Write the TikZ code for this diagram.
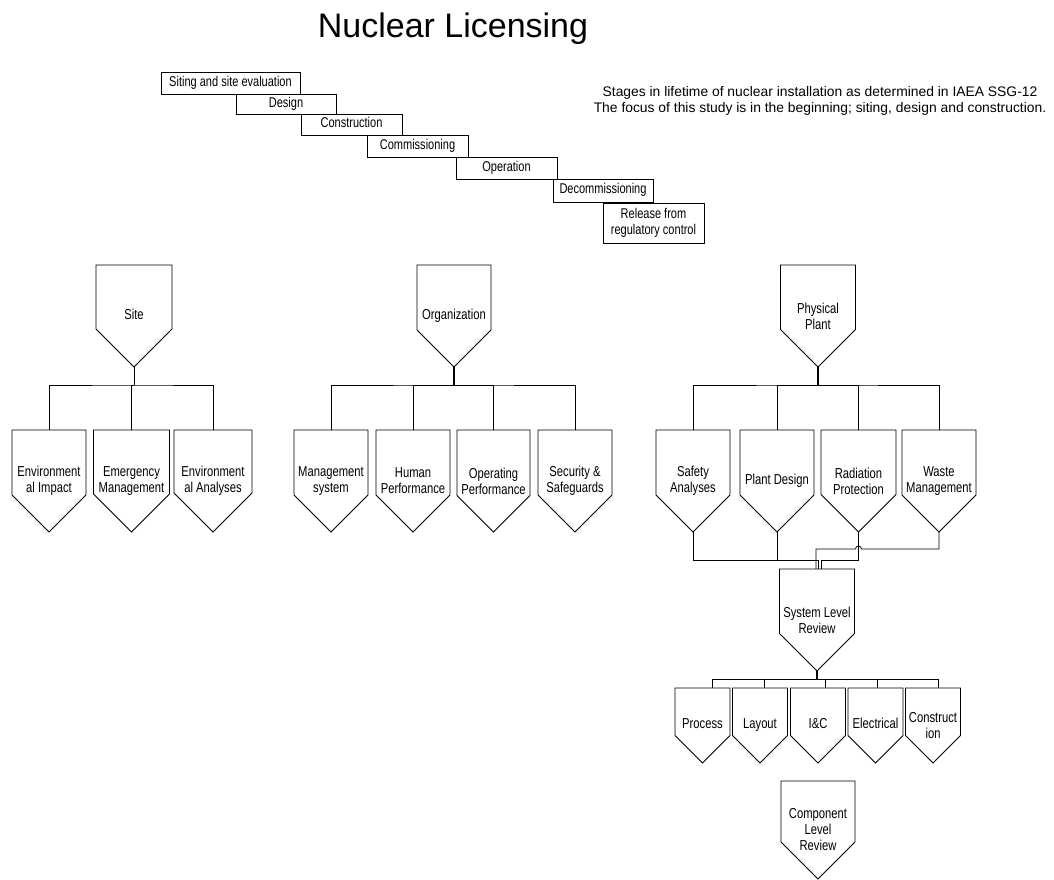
\documentclass[tikz,border=0pt]{standalone}
\usepackage{fontspec}
\setmainfont{Liberation Sans}
\newfontfamily\boxfont{Liberation Sans}[FakeStretch=0.78]

% Pentagon pointing down: name, x, y, width, height, text (sizes in px units)
\newcommand\pentagonnode[6]{%
  \node[pentbox, minimum width=0.75*#4pt, minimum height=0.75*#5pt] (#1) at (#2,#3) {#6};
  \draw[wire] (#1.north west) -- (#1.north east)
    -- ([yshift=0.375*#4pt]#1.south east) -- (#1.south)
    -- ([yshift=0.375*#4pt]#1.south west) -- cycle;
}

\begin{document}
\begin{tikzpicture}[x=0.75pt,y=-0.75pt,
  wire/.style={draw=black, line width=0.6pt},
  trunk/.style={draw=black, line width=1.3pt},
  stagebox/.style={draw=black, line width=0.6pt, rectangle, inner sep=0pt, outer sep=0pt,
    align=center, font=\boxfont\fontsize{10.6}{12}\selectfont},
  pentbox/.style={rectangle, inner sep=0pt, outer sep=0pt, align=center,
    font=\boxfont\fontsize{10.8}{12}\selectfont},
]
\useasboundingbox (0,0) rectangle (1054,880);

% Title and note
\node[anchor=base, inner sep=0pt, font=\fontsize{25.5}{30}\selectfont] (title) at (453,38) {Nuclear Licensing};
\node[align=center, inner sep=0pt, font=\fontsize{10.4}{12}\selectfont] (note) at (820,101)
  {Stages in lifetime of nuclear installation as determined in IAEA SSG-12\\
   The focus of this study is in the beginning; siting, design and construction.};

% Lifetime stages
\node[stagebox, minimum width=0.75*139pt, minimum height=0.75*22pt] (s1) at (230.5,83) {\strut Siting and site evaluation};
\node[stagebox, minimum width=0.75*100pt, minimum height=0.75*20pt] (s2) at (286,104) {\strut Design};
\node[stagebox, minimum width=0.75*101pt, minimum height=0.75*21pt] (s3) at (351.5,124.5) {\strut Construction};
\node[stagebox, minimum width=0.75*101pt, minimum height=0.75*22pt] (s4) at (417.5,146) {\strut Commissioning};
\node[stagebox, minimum width=0.75*101pt, minimum height=0.75*22pt] (s5) at (506.5,168) {\strut Operation};
\node[stagebox, minimum width=0.75*100pt, minimum height=0.75*23pt] (s6) at (603,190.5) {\strut Decommissioning};
\node[stagebox, minimum width=0.75*101pt, minimum height=0.75*40pt] (s7) at (653.5,223) {Release from\\regulatory control};

% Top level
\pentagonnode{site}{134}{316}{76}{102}{\strut Site}
\pentagonnode{org}{454}{316}{74}{102}{\strut Organization}
\pentagonnode{plant}{818}{316}{75}{102}{Physical\\Plant}

% Site branch
\pentagonnode{envimp}{49}{481}{74}{102}{Environment\\al Impact}
\pentagonnode{emerg}{131.5}{481}{76}{102}{Emergency\\Management}
\pentagonnode{envan}{213}{481}{78}{102}{Environment\\al Analyses}
\coordinate (sitebar) at ([yshift=-13.5pt]site.south);
\draw[wire] (site.south) -- (sitebar);
\draw[wire] (envimp.north) |- (sitebar) -| (envan.north);
\draw[wire] (sitebar) -| (emerg.north);

% Organization branch
\pentagonnode{mgmt}{331}{481}{74}{102}{Management\\system}
\pentagonnode{human}{413}{481}{74}{102}{Human\\Performance}
\pentagonnode{operf}{493.5}{481}{73}{102}{Operating\\Performance}
\pentagonnode{secur}{575}{481}{74}{102}{Security \&\\Safeguards}
\coordinate (orgbar) at ([yshift=-13.5pt]org.south);
\draw[trunk] (org.south) -- (orgbar);
\draw[wire] (mgmt.north) |- (orgbar) -| (secur.north);
\draw[wire] (orgbar) -| (human.north);
\draw[wire] (orgbar) -| (operf.north);

% Physical plant branch
\pentagonnode{safety}{693}{481}{74}{102}{Safety\\Analyses}
\pentagonnode{pdesign}{777}{481}{74}{102}{\strut Plant Design}
\pentagonnode{radprot}{858.5}{481}{75}{102}{Radiation\\Protection}
\pentagonnode{waste}{939}{481}{74}{102}{Waste\\Management}
\coordinate (plantbar) at ([yshift=-13.5pt]plant.south);
\draw[trunk] (plant.south) -- (plantbar);
\draw[wire] (safety.north) |- (plantbar) -| (waste.north);
\draw[wire] (plantbar) -| (pdesign.north);
\draw[wire] (plantbar) -| (radprot.north);

% System level review, fed by the four plant topics
\pentagonnode{slr}{817}{620}{75}{102}{System Level\\Review}
\coordinate (jA) at (818.5,560);
\coordinate (jB) at (821,560);
\coordinate (jC) at (816,549);
\coordinate (hop) at (radprot.south |- jC);
\draw[wire] (safety.south) |- (jA) -- (jA |- slr.north);
\draw[wire] (pdesign.south) |- (jA);
\draw[wire] (radprot.south) |- (jB) -- (jB |- slr.north);
\draw[wire] (waste.south) |- ([xshift=2.25pt]hop)
  arc[start angle=0, end angle=180, radius=2.25pt] -- (jC) -- (jC |- slr.north);

% Disciplines
\pentagonnode{process}{702.5}{725.5}{55}{75}{\strut Process}
\pentagonnode{layout}{760}{725.5}{55}{75}{\strut Layout}
\pentagonnode{iandc}{818}{725.5}{55}{75}{\strut I\&C}
\pentagonnode{electr}{875.5}{725.5}{55}{75}{\strut Electrical}
\pentagonnode{constr}{933}{725.5}{55}{75}{Construct\\ion}
\coordinate (slrbar) at ([yshift=-6pt]slr.south);
\draw[trunk] (slr.south) -- (slrbar);
\draw[wire] ([xshift=7.1pt]process.north) |- (slrbar) -| ([xshift=3.75pt]constr.north);
\draw[wire] (slrbar) -| ([xshift=3pt]layout.north);
\draw[wire] (slrbar) -| ([xshift=5.25pt]iandc.north);
\draw[wire] (slrbar) -| ([xshift=1.1pt]electr.north);

% Component level review
\pentagonnode{clr}{818}{830}{74}{98}{Component\\Level\\Review}

\end{tikzpicture}
\end{document}
